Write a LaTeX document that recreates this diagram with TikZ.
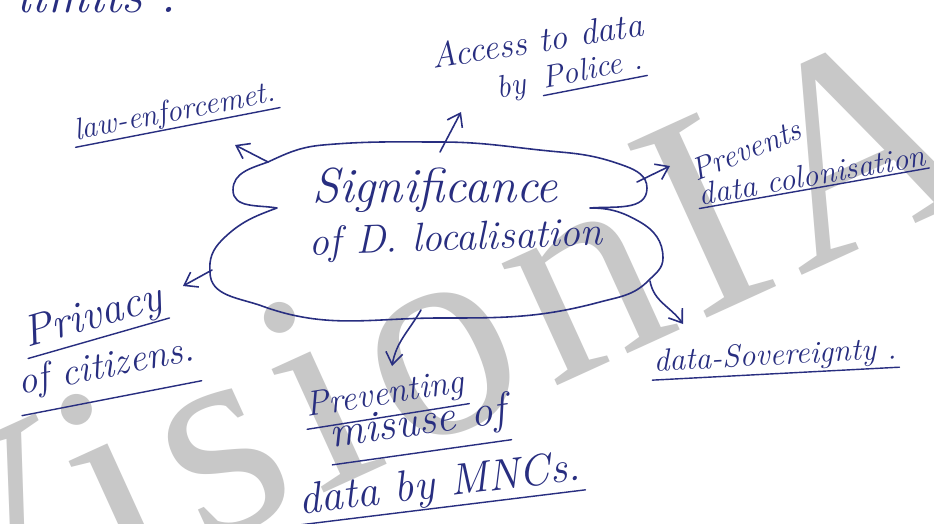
\documentclass[tikz,border=0pt]{standalone}
\usepackage{fontspec}
\usepackage{xcolor}
\usepackage{tikz}
\newfontfamily\markfont[LetterSpace=5]{Liberation Serif}
\definecolor{ink}{RGB}{40,46,128}
\definecolor{markgray}{RGB}{200,200,200}
\tikzset{
  hand/.style={font=\fontsize{#1}{#1}\selectfont\itshape,
               text=ink, inner sep=1pt},
  stamp/.style={font=\markfont\fontsize{166}{166}\selectfont,
                text=markgray, inner sep=0pt},
  pen/.style={draw=ink, line width=0.9pt, line cap=round, line join=round}
}
\usetikzlibrary{arrows.meta, calc}

\begin{document}
\begin{tikzpicture}[x=0.02cm, y=0.02cm,
    arrow/.style={pen, -{Straight Barb[length=2.4mm, width=3.4mm]}},
    uline/.style={pen, line width=0.8pt}
]
\useasboundingbox (0,0) rectangle (934,-524);
\clip (0,0) rectangle (934,-524);
\fill[white] (0,0) rectangle (934,-524);
\node[stamp, anchor=base west, rotate=24.5] (mark) at (-74,-674) {VisionIAS};
% heading left over from the page above
\node[hand=30, anchor=base west] (limits) at (15,-12) {limits .};
% the cloud in the middle
\draw[pen] (268,-162) to[out=200,in=90] (233,-190) to[out=270,in=170] (277,-208)
  to[out=200,in=45] (222,-240) to[out=225,in=95] (210,-272)
  to[out=270,in=160] (262,-306) to[out=-20,in=180] (440,-318)
  to[out=0,in=195] (600,-302) to[out=15,in=225] (648,-281)
  to[out=45,in=270] (663,-258) to[out=90,in=-30] (640,-222)
  to[out=150,in=0] (590,-208)
  to[out=5,in=-90] (647,-188) to[out=90,in=-20] (625,-166)
  to[out=160,in=-5] (560,-152) to[out=175,in=0] (440,-142)
  to[out=180,in=5] (323,-145) to[out=185,in=25] (268,-162);
\node[hand=28] (sig) at (435,-190) {Significance};
\node[hand=23, rotate=2] (dloc) at (456,-240) {of D. localisation};
% branches
\node[hand=17.5, rotate=11] (law) at (175,-113) {law-enforcemet.};
\node[hand=20, rotate=9] (access) at (537,-40) {Access to data};
\node[hand=18, rotate=10] (by) at (512,-88) {by};
\node[hand=18, rotate=11] (police) at (592,-68) {Police .};
\node[hand=18, rotate=22] (prev) at (746,-150) {Prevents};
\node[hand=18, rotate=10] (colon) at (812,-175) {data colonisation};
\node[hand=25, rotate=16] (privacy) at (93,-318) {Privacy};
\node[hand=22, rotate=11] (citizens) at (106,-368) {of citizens.};
\node[hand=20, rotate=9] (preventing) at (385,-396) {Preventing};
\node[hand=25, rotate=8] (misuse) at (418,-424) {misuse of};
\node[hand=25, rotate=7] (mncs) at (440,-486) {data by MNCs.};
\node[hand=18, rotate=3] (sov) at (775,-357) {data-Sovereignty .};
% underlines, each set below its own baseline
\foreach \n/\d in {law/4, police/4, colon/1.5, privacy/6, citizens/12,
                   preventing/7, misuse/10, mncs/6, sov/5}
  \draw[uline] ($(\n.base west)!\d pt!-90:(\n.base east)$)
            -- ($(\n.base east)!\d pt!90:(\n.base west)$);
% arrow ends on the cloud and at the tips
\coordinate (law-a) at (268,-162);   \coordinate (law-b) at (235,-145);
\coordinate (acc-a) at (440,-152);   \coordinate (acc-b) at (461,-112);
\coordinate (col-a) at (637,-182);   \coordinate (col-b) at (670,-166);
\coordinate (pri-a) at (212,-270);   \coordinate (pri-b) at (183,-286);
\coordinate (mis-a) at (421,-310);   \coordinate (mis-b) at (392,-366);
\coordinate (sov-a) at (650,-281);   \coordinate (sov-b) at (683,-324);
\draw[arrow] (law-a) -- (law-b);
\draw[arrow] (acc-a) -- (acc-b);
\draw[arrow] (col-a) -- (col-b);
\draw[arrow] (pri-a) -- (pri-b);
\draw[arrow] (mis-a) to[out=240,in=80] (mis-b);
\draw[arrow] (sov-a) to[out=-80,in=125] (sov-b);
\end{tikzpicture}
\end{document}
